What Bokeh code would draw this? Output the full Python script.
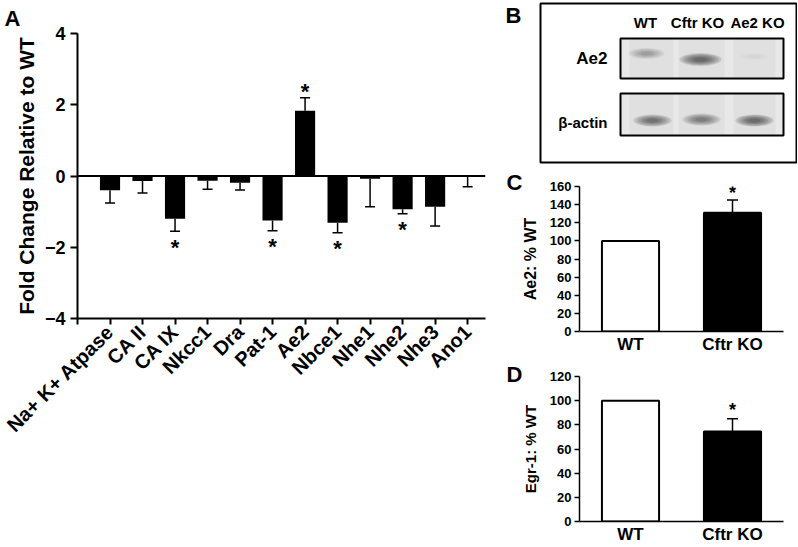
import math
from bokeh.plotting import figure
from bokeh.layouts import row, column
from bokeh.models import (Range1d, FactorRange, FixedTicker, CustomJSTickFormatter,
                          Whisker, TeeHead, Span, ColumnDataSource)
from bokeh.core.properties import value
from bokeh.embed import file_html
from bokeh.resources import INLINE

FONT = "Liberation Sans"

# ---------------- data ----------------
# Panel A
genes = ["Na+ K+ Atpase", "CA II", "CA IX", "Nkcc1", "Dra", "Pat-1", "Ae2",
         "Nbce1", "Nhe1", "Nhe2", "Nhe3", "Ano1"]
fold_change = [-0.40, -0.14, -1.20, -0.13, -0.19, -1.25, 1.83, -1.31, -0.08, -0.93, -0.86, -0.03]
fold_err = [0.36, 0.34, 0.35, 0.24, 0.20, 0.29, 0.37, 0.28, 0.78, 0.13, 0.54, 0.27]
fold_sig = [False, False, True, False, False, True, True, True, False, True, False, False]
a_ticks = [-4, -2, 0, 2, 4]

# Panel B (western blot)
lanes = ["WT", "Cftr KO", "Ae2 KO"]
blot_rows = ["Ae2", "\u03b2-actin"]
ae2_band = [0.35, 0.80, 0.04]
actin_band = [0.70, 0.62, 0.82]

# Panel C
groups = ["WT", "Cftr KO"]
ae2_pct = [100, 131]
ae2_err = [0, 14]
c_ticks = [0, 20, 40, 60, 80, 100, 120, 140, 160]

# Panel D
egr1_pct = [100, 74.5]
egr1_err = [0, 10.5]
d_ticks = [0, 20, 40, 60, 80, 100, 120]

bar_fill = ["white", "black"]


def style_axes(p, lw):
    p.xgrid.visible = False
    p.ygrid.visible = False
    p.outline_line_color = None
    for ax in p.axis:
        ax.axis_line_width = lw
        ax.axis_line_color = "black"
        ax.major_tick_line_width = lw
        ax.major_tick_line_color = "black"
        ax.minor_tick_line_color = None
        ax.major_tick_in = 0
        ax.major_label_text_font = FONT
        ax.major_label_text_font_style = "bold"
        ax.major_label_text_color = "black"
        ax.axis_label_text_font = FONT
        ax.axis_label_text_font_style = "bold"
        ax.axis_label_text_color = "black"


def letter_title(p, text, offset, standoff):
    p.title.text = text
    p.title.align = "left"
    p.title.offset = offset
    p.title.standoff = standoff
    p.title.text_font = FONT
    p.title.text_font_style = "bold"
    p.title.text_font_size = "22px"
    p.title.text_color = "black"


# ---------------- Panel A ----------------
pA = figure(width=500, height=546, x_range=Range1d(-1, 11.55), y_range=Range1d(-4, 4),
            output_backend="svg", toolbar_location=None,
            min_border_left=77, min_border_right=15, min_border_top=33, min_border_bottom=228)
style_axes(pA, 2)
letter_title(pA, "A", -73, 5)
xs = list(range(len(genes)))
pA.vbar(x=xs, top=fold_change, bottom=0, width=0.62, fill_color="black", line_color=None)
pA.add_layout(Span(location=0, dimension="width", line_color="black", line_width=2))

neg = [i for i, v in enumerate(fold_change) if v < 0]
pos = [i for i, v in enumerate(fold_change) if v >= 0]
src_neg = ColumnDataSource(dict(x=neg, v=[fold_change[i] for i in neg],
                                e=[fold_change[i] - fold_err[i] for i in neg]))
src_pos = ColumnDataSource(dict(x=pos, v=[fold_change[i] for i in pos],
                                e=[fold_change[i] + fold_err[i] for i in pos]))
pA.add_layout(Whisker(base="x", upper="v", lower="e", source=src_neg, upper_head=None,
                      lower_head=TeeHead(size=10, line_width=1.5, line_color="black"),
                      line_width=1.5, line_color="black"))
pA.add_layout(Whisker(base="x", upper="e", lower="v", source=src_pos, lower_head=None,
                      upper_head=TeeHead(size=10, line_width=1.5, line_color="black"),
                      line_width=1.5, line_color="black"))

sn = [i for i in neg if fold_sig[i]]
sp = [i for i in pos if fold_sig[i]]
star_kw = dict(text_font=value(FONT), text_font_style="bold", text_font_size="22px",
               text_align="center", text_baseline="middle", text_color="black")
pA.text(x=sn, y=[fold_change[i] - fold_err[i] for i in sn], text=["*"] * len(sn),
        y_offset=16, **star_kw)
pA.text(x=sp, y=[fold_change[i] + fold_err[i] for i in sp], text=["*"] * len(sp),
        y_offset=-6, **star_kw)

xa = pA.xaxis[0]
xa.ticker = FixedTicker(ticks=list(range(-1, len(genes))))
xa.formatter = CustomJSTickFormatter(args=dict(labels=genes), code="""
const i = Math.round(tick);
return (i >= 0 && i < labels.length) ? labels[i] : '';
""")
xa.major_label_orientation = math.pi / 4
xa.major_label_text_font_size = "20px"
xa.major_tick_out = 6
xa.major_label_standoff = 4
ya = pA.yaxis[0]
ya.ticker = FixedTicker(ticks=a_ticks)
ya.major_label_text_font_size = "18px"
ya.major_tick_out = 7
ya.major_label_standoff = 5
ya.axis_label = "Fold Change Relative to WT"
ya.axis_label_text_font_size = "21px"
ya.axis_label_standoff = 4

# ---------------- Panel B ----------------
pB = figure(width=297, height=165, x_range=Range1d(0, 297), y_range=Range1d(165, 0),
            output_backend="svg", toolbar_location=None, min_border=0,
            x_axis_location=None, y_axis_location=None)
pB.xgrid.visible = False
pB.ygrid.visible = False
pB.outline_line_color = None

ae2_x = [146, 200, 254]
act_x = [152, 201, 254]
head_x = [145, 197, 257]
row_y = [58, 122]
band_y_ae2 = [53, 59, 56]
band_y_act = [120, 119, 120]
blot_boxes = [(38, 78), (93, 135)]

pB.quad(left=[40], right=[296], top=[3], bottom=[162], fill_color="white",
        line_color="black", line_width=2)
for top, bot in blot_boxes:
    pB.quad(left=[120], right=[283], top=[top], bottom=[bot], fill_color="#e8e8e8",
            line_color=None)
    pB.rect(x=[151, 201, 254], y=[(top + bot) / 2] * 3, width=[44, 46, 42],
            height=[bot - top - 2] * 3, fill_color="#d8d8d8", fill_alpha=0.45, line_color=None)

for k in range(6):
    s = 1 - 0.14 * k
    pB.ellipse(x=ae2_x, y=band_y_ae2, width=[36 * s, 42 * s, 30 * s], height=[11 * s, 13 * s, 8 * s],
               fill_color="#2e2e2e", fill_alpha=[a * 0.2 for a in ae2_band], line_color=None)
    pB.ellipse(x=act_x, y=band_y_act, width=[38 * s, 38 * s, 38 * s], height=[12 * s] * 3,
               fill_color="#2e2e2e", fill_alpha=[a * 0.2 for a in actin_band], line_color=None)

for top, bot in blot_boxes:
    pB.quad(left=[120], right=[283], top=[top], bottom=[bot], fill_color=None,
            line_color="black", line_width=2)

txt_kw = dict(text_font=value(FONT), text_font_style="bold", text_baseline="middle",
              text_color="black")
pB.text(x=head_x, y=[22] * 3, text=lanes, text_align="center", text_font_size="15px", **txt_kw)
pB.text(x=[107], y=row_y[:1], text=blot_rows[:1], text_align="right", text_font_size="17px", **txt_kw)
pB.text(x=[107], y=row_y[1:], text=blot_rows[1:], text_align="right", text_font_size="15px", **txt_kw)
pB.text(x=[5], y=[2], text=["B"], text_align="left", text_baseline="top",
        text_font=value(FONT), text_font_style="bold", text_font_size="22px", text_color="black")


# ---------------- Panels C & D ----------------
def bar_panel(vals, errs, ymax, ticks, ylabel, letter, height, top, bottom, right,
              standoff, lab_size, star_dy):
    p = figure(width=297, height=height, x_range=FactorRange(*groups), y_range=Range1d(0, ymax),
               output_backend="svg", toolbar_location=None,
               min_border_left=79, min_border_right=right, min_border_top=top,
               min_border_bottom=bottom)
    style_axes(p, 1.5)
    letter_title(p, letter, -73, standoff)
    src = ColumnDataSource(dict(g=groups, v=vals, c=bar_fill))
    p.vbar(x="g", top="v", width=0.56, fill_color="c", line_color="black", line_width=2, source=src)
    esrc = ColumnDataSource(dict(g=groups[1:], v=vals[1:], e=[vals[1] + errs[1]]))
    p.add_layout(Whisker(base="g", upper="e", lower="v", source=esrc, lower_head=None,
                         upper_head=TeeHead(size=11, line_width=1.5, line_color="black"),
                         line_width=1.5, line_color="black"))
    p.text(x=groups[1:], y=[vals[1] + errs[1]], text=["*"], y_offset=star_dy,
           text_font=value(FONT), text_font_style="bold", text_font_size="18px",
           text_align="center", text_baseline="middle", text_color="black")
    xa = p.xaxis[0]
    xa.major_tick_out = 0
    xa.major_label_standoff = 3
    xa.major_label_text_font_size = "17px"
    ya = p.yaxis[0]
    ya.ticker = FixedTicker(ticks=ticks)
    ya.major_tick_out = 5
    ya.major_label_standoff = 3
    ya.major_label_text_font_size = "13px"
    ya.axis_label = ylabel
    ya.axis_label_text_font_size = lab_size
    ya.axis_label_standoff = 8
    return p


pC = bar_panel(ae2_pct, ae2_err, 160, c_ticks, "Ae2: % WT", "C", 193, 21, 27, 14, -17, "16px", -7)
pD = bar_panel(egr1_pct, egr1_err, 120, d_ticks, "Egr-1: % WT", "D", 188, 18, 22, 4, -20, "15px", -9)

layout = row(pA, column(row(pB), pC, pD))
open("out.html", "w").write(file_html(layout, INLINE))
